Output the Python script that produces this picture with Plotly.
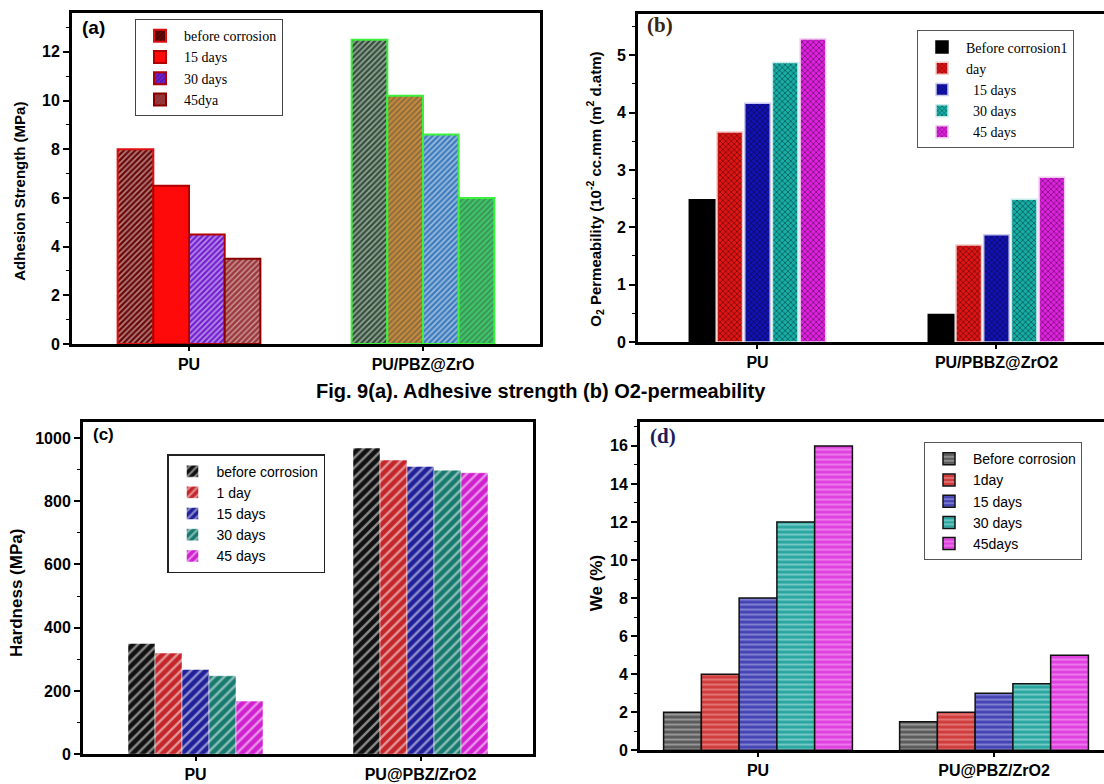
import plotly.graph_objects as go

W, H = 1104, 784

# ---------------- data ----------------
cat_a = ["PU", "PU/PBZ@ZrO"]
names_a = ["before corrosion", "15 days", "30 days", "45dya"]
a_before = [8.0, 12.5]
a_15 = [6.5, 10.2]
a_30 = [4.5, 8.6]
a_45 = [3.5, 6.0]

cat_b = ["PU", "PU/PBBZ@ZrO2"]
names_b = ["Before corrosion1", "day", "\u00a0\u00a015 days", "\u00a0\u00a030 days", "\u00a0\u00a045 days"]
b_before = [2.48, 0.48]
b_1 = [3.66, 1.69]
b_15 = [4.16, 1.87]
b_30 = [4.87, 2.49]
b_45 = [5.28, 2.87]

cat_c = ["PU", "PU@PBZ/ZrO2"]
names_c = ["before corrosion", "1 day", "15 days", "30 days", "45 days"]
c_before = [350, 968]
c_1 = [320, 930]
c_15 = [268, 910]
c_30 = [248, 898]
c_45 = [168, 890]

cat_d = ["PU", "PU@PBZ/ZrO2"]
names_d = ["Before corrosion", "1day", "15 days", "30 days", "45days"]
d_before = [2.0, 1.5]
d_1 = [4.0, 2.0]
d_15 = [8.0, 3.0]
d_30 = [12.0, 3.5]
d_45 = [16.0, 5.0]

# ---------------- helpers ----------------
def px_x(p):
    return p / W


def px_y(p):
    return 1 - p / H


fig = go.Figure()


def add_group(series, names, cats, xa, ya, legend, group_w, inner_gap, styles):
    n = len(series)
    slot = group_w / n
    bw = slot * (1 - inner_gap)
    for i, (vals, name, st) in enumerate(zip(series, names, styles)):
        off = -group_w / 2 + i * slot + slot * inner_gap / 2
        fig.add_trace(go.Bar(
            x=cats, y=vals, name=name, xaxis=xa, yaxis=ya, legend=legend,
            width=bw, offset=off, marker=st, hoverinfo="x+y+name",
        ))


# panel (a) styles: PU point / composite point
lime = "#3cf03c"
styles_a = [
    dict(color=["#6a0808", "#34503a"], line=dict(color=["#e01010", lime], width=2),
         pattern=dict(shape=["/", "/"], bgcolor=["#6a0808", "#34503a"],
                      fgcolor=["#1a0000", "#101a10"], size=4, solidity=0.4)),
    dict(color=["#ff0a0a", "#c48a3c"], line=dict(color=["#b00000", lime], width=2),
         pattern=dict(shape=["", "/"], bgcolor=["#ff0a0a", "#c48a3c"],
                      fgcolor=["#ff0a0a", "#5a3a10"], size=4, solidity=0.4)),
    dict(color=["#7420d0", "#3e7cbe"], line=dict(color=["#b00000", lime], width=2),
         pattern=dict(shape=["/", "/"], bgcolor=["#7420d0", "#3e7cbe"],
                      fgcolor=["#2a0860", "#143050"], size=4, solidity=0.4)),
    dict(color=["#9c3a3e", "#3cc466"], line=dict(color=["#8a0000", lime], width=2),
         pattern=dict(shape=["/", "/"], bgcolor=["#9c3a3e", "#3cc466"],
                      fgcolor=["#6a2424", "#187034"], size=4, solidity=0.35)),
]

cols_b = ["#000000", "#e01414", "#1212b4", "#16aea6", "#e022e0"]
edge_b = ["#000000", "#f4c8c8", "#c8c8f0", "#c8ecec", "#f0c8f0"]
styles_b = []
for k, (c, e) in enumerate(zip(cols_b, edge_b)):
    styles_b.append(dict(color=c, line=dict(color=e, width=1.5),
                         pattern=dict(shape="" if k == 0 else "x", bgcolor=c,
                                      fgcolor="#000000", size=4, solidity=0.35)))

cols_c = ["#111111", "#c4262a", "#20209a", "#177a6e", "#d020d0"]
styles_c = [dict(color=c, line=dict(color="#ffffff", width=0.5),
                 pattern=dict(shape="/", bgcolor=c, fgcolor="#ffffff", size=7, solidity=0.35))
            for c in cols_c]

cols_d = ["#5a5a5a", "#d03c3c", "#4444b4", "#2aa6a0", "#e040e0"]
light_d = ["#d8d8d8", "#f4b0b0", "#c0c0ee", "#c8f0ee", "#f8b8f8"]
styles_d = [dict(color=c, line=dict(color="#111111", width=1.5),
                 pattern=dict(shape="-", bgcolor=c, fgcolor=l, size=5, solidity=0.4))
            for c, l in zip(cols_d, light_d)]

add_group([a_before, a_15, a_30, a_45], names_a, cat_a, "x", "y", "legend", 0.61, 0.0, styles_a)
add_group([b_before, b_1, b_15, b_30, b_45], names_b, cat_b, "x2", "y2", "legend2", 0.58, 0.08, styles_b)
add_group([c_before, c_1, c_15, c_30, c_45], names_c, cat_c, "x3", "y3", "legend3", 0.60, 0.0, styles_c)
add_group([d_before, d_1, d_15, d_30, d_45], names_d, cat_d, "x4", "y4", "legend4", 0.80, 0.0, styles_d)

# ---------------- axes ----------------
sans = "Liberation Sans"
serif = "Liberation Serif"
tickfont = dict(family=sans, size=16, color="black", weight="bold")


def xaxis(domain, rng, anchor):
    return dict(domain=domain, range=rng, type="category", anchor=anchor,
                showline=True, linecolor="black", linewidth=3, mirror=True,
                ticks="outside", ticklen=4, tickwidth=1.5, tickcolor="black",
                showgrid=False, zeroline=False, tickfont=tickfont, fixedrange=True)


def yaxis(domain, rng, dtick, minor, anchor, mirror):
    return dict(domain=domain, range=rng, anchor=anchor, tick0=0, dtick=dtick,
                showline=True, linecolor="black", linewidth=3, mirror=mirror,
                ticks="outside", ticklen=6, tickwidth=1.5, tickcolor="black",
                minor=dict(dtick=minor, ticks="outside", ticklen=3, tickwidth=1, tickcolor="black"),
                showgrid=False, zeroline=False, tickfont=tickfont, fixedrange=True)


dom_a_x = [px_x(72), px_x(540)]
dom_a_y = [px_y(348), px_y(13)]
dom_b_x = [px_x(638), 1.0]
dom_b_y = [px_y(346), px_y(14)]
dom_c_x = [px_x(83), px_x(533)]
dom_c_y = [px_y(763), px_y(427)]
dom_d_x = [px_x(640), 1.0]
dom_d_y = [px_y(759), px_y(427)]


def legend_box(x, yc, family, size, border, bw=1):
    return dict(x=px_x(x), y=px_y(yc), xanchor="left", yanchor="middle",
                bordercolor=border, borderwidth=bw, bgcolor="white",
                font=dict(family=family, size=size, color="black"),
                itemwidth=38, tracegroupgap=0)


fig.update_layout(
    width=W, height=H,
    margin=dict(l=0, r=0, t=0, b=0),
    paper_bgcolor="white", plot_bgcolor="white",
    barmode="group",
    xaxis=xaxis(dom_a_x, [-0.5, 1.5], "y"),
    yaxis=yaxis(dom_a_y, [0, 13.6], 2, 1, "x", True),
    xaxis2=xaxis(dom_b_x, [-0.5, 1.45], "y2"),
    yaxis2=yaxis(dom_b_y, [0, 5.72], 1, 0.5, "x2", False),
    xaxis3=xaxis(dom_c_x, [-0.5, 1.5], "y3"),
    yaxis3=yaxis(dom_c_y, [0, 1050], 200, 100, "x3", True),
    xaxis4=xaxis(dom_d_x, [-0.5, 1.466], "y4"),
    yaxis4=yaxis(dom_d_y, [0, 17.25], 2, 1, "x4", False),
    legend=legend_box(135, 68.5, serif, 14, "#444444"),
    legend2=legend_box(917, 90.5, serif, 14, "#555555"),
    legend3=legend_box(167, 519.5, sans, 14, "#222222", 1.5),
    legend4=legend_box(924, 507, sans, 14, "#555555"),
    showlegend=True,
)

# ---------------- texts ----------------
ann = []


def add_text(text, x, y, size, family, color="black", angle=0, bold=True):
    ann.append(dict(text=text, x=px_x(x), y=px_y(y), xref="paper", yref="paper",
                    xanchor="center", yanchor="middle", showarrow=False, textangle=angle,
                    font=dict(family=family, size=size, color=color,
                              weight="bold" if bold else "normal")))


add_text("Adhesion Strength (MPa)", 20, 194, 15, sans, angle=-90)
add_text("O<sub>2</sub> Permeability (10<sup>-2</sup> cc.mm (m<sup>2</sup> d.atm)", 595, 192, 15, sans, angle=-90)
add_text("Hardness (MPa)", 16, 600, 17, sans, angle=-90)
add_text("We (%)", 596, 590, 17, sans, angle=-90)

add_text("(a)", 93, 28, 19, sans)
add_text("(b)", 660, 25, 21, serif, color="#3a2410")
add_text("(c)", 103, 440, 17, sans)
add_text("(d)", 663, 441, 21, serif, color="#1c1c5c")

add_text("Fig. 9(a). Adhesive strength (b) O2-permeability", 541, 396, 20, sans)

fig.update_layout(annotations=ann)

fig.write_html("out.html")
